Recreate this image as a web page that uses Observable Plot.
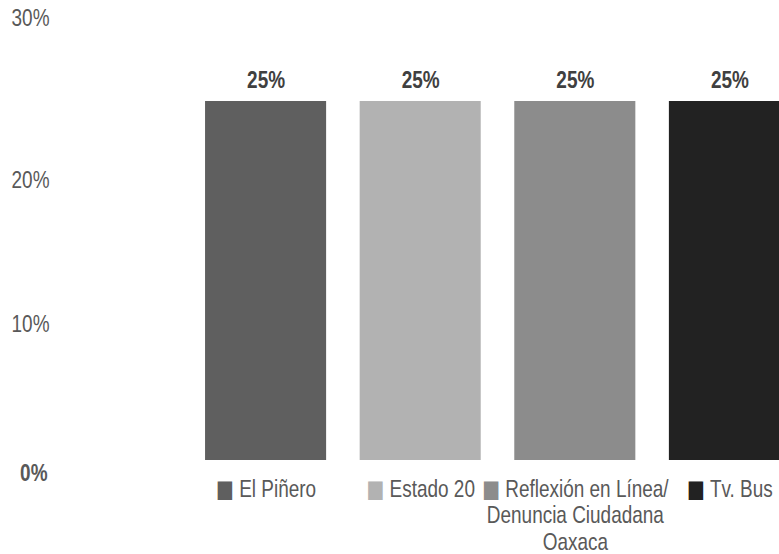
<!DOCTYPE html>
<html>
<head>
<meta charset="utf-8">
<script src="https://cdn.jsdelivr.net/npm/d3@7"></script>
<script src="https://cdn.jsdelivr.net/npm/@observablehq/plot@0.6"></script>
<style>
  html, body { margin: 0; padding: 0; background: #fff; overflow: hidden; }
  #chart svg { display: block; }
</style>
</head>
<body>
<div id="chart"></div>
<script>
const categories = ["El Piñero", "Estado 20", "Reflexión en Línea/\nDenuncia Ciudadana\nOaxaca", "Tv. Bus"];
const values = [25, 25, 25, 25];
const colors = ["#5f5f5f", "#b2b2b2", "#8c8c8c", "#222222"];
const valueLabels = ["25%", "25%", "25%", "25%"];
const yTickValues = [0, 10, 20, 30];
const yTickLabels = ["0%", "10%", "20%", "30%"];

const FONT = "'Liberation Sans', Arial, sans-serif";
const FS = 24;
const data = categories.map((c, i) => ({cat: c, value: values[i], color: colors[i], label: valueLabels[i]}));
const fmt = d => yTickLabels[yTickValues.indexOf(d)];

const chart = Plot.plot({
  width: 779,
  height: 554,
  marginLeft: 0, marginRight: 0, marginTop: 0, marginBottom: 0,
  style: {fontFamily: FONT, fontSize: FS + "px", color: "#595959", background: "#fff"},
  x: {domain: categories, range: [171.5, 823.5], padding: 0.217, round: false, axis: null},
  y: {domain: [0, 30], range: [460, 29.2], axis: null, label: null},
  marks: [
    Plot.barY(data, {x: "cat", y: "value", fill: "color"}),
    Plot.text(data, {x: "cat", y: "value", text: "label", dy: -21, fontWeight: "bold", fill: "#404040", fontSize: FS}),
    Plot.text([10, 20], {y: d => d, text: fmt, frameAnchor: "left", textAnchor: "end", dx: 49, dy: 7, fill: "#595959", fontSize: FS}),
    Plot.text([30], {y: d => d, text: fmt, frameAnchor: "left", textAnchor: "end", dx: 49, dy: -11, fill: "#595959", fontSize: FS}),
    Plot.text([0], {y: d => d, text: fmt, frameAnchor: "left", textAnchor: "end", dx: 47, dy: 13, fill: "#595959", fontWeight: "bold", fontSize: FS}),
    Plot.text(data, {x: "cat", y: 0, text: d => "\u25A0 " + d.cat, lineAnchor: "top", dy: 17, lineHeight: 1.12, fill: "#595959", fontSize: FS, className: "xlabels"})
  ]
});

document.getElementById("chart").appendChild(chart);

// colour the leading square of each category label with its bar colour
const labelTexts = chart.querySelectorAll("g.xlabels text");
labelTexts.forEach((t, i) => {
  const first = t.querySelector("tspan") || t;
  const s = first.textContent;
  if (!s.startsWith("\u25A0")) return;
  const rest = s.slice(1);
  first.textContent = "";
  const sq = document.createElementNS("http://www.w3.org/2000/svg", "tspan");
  sq.textContent = "\u25A0";
  sq.setAttribute("fill", colors[i]);
  sq.setAttribute("font-family", "'DejaVu Sans', sans-serif");
  sq.setAttribute("font-size", "24");
  const tx = document.createElementNS("http://www.w3.org/2000/svg", "tspan");
  tx.textContent = rest;
  first.appendChild(sq);
  first.appendChild(tx);
});

// condensed look of the original (narrow typeface): squeeze each text horizontally about its anchor
chart.querySelectorAll("text").forEach(t => {
  const bb = t.getBBox();
  const anchor = getComputedStyle(t).textAnchor;
  const ax = anchor === "end" ? bb.x + bb.width : anchor === "middle" ? bb.x + bb.width / 2 : bb.x;
  const tr = t.getAttribute("transform") || "";
  t.setAttribute("transform", `${tr} translate(${ax},0) scale(0.79,1) translate(${-ax},0)`);
});
</script>
</body>
</html>
